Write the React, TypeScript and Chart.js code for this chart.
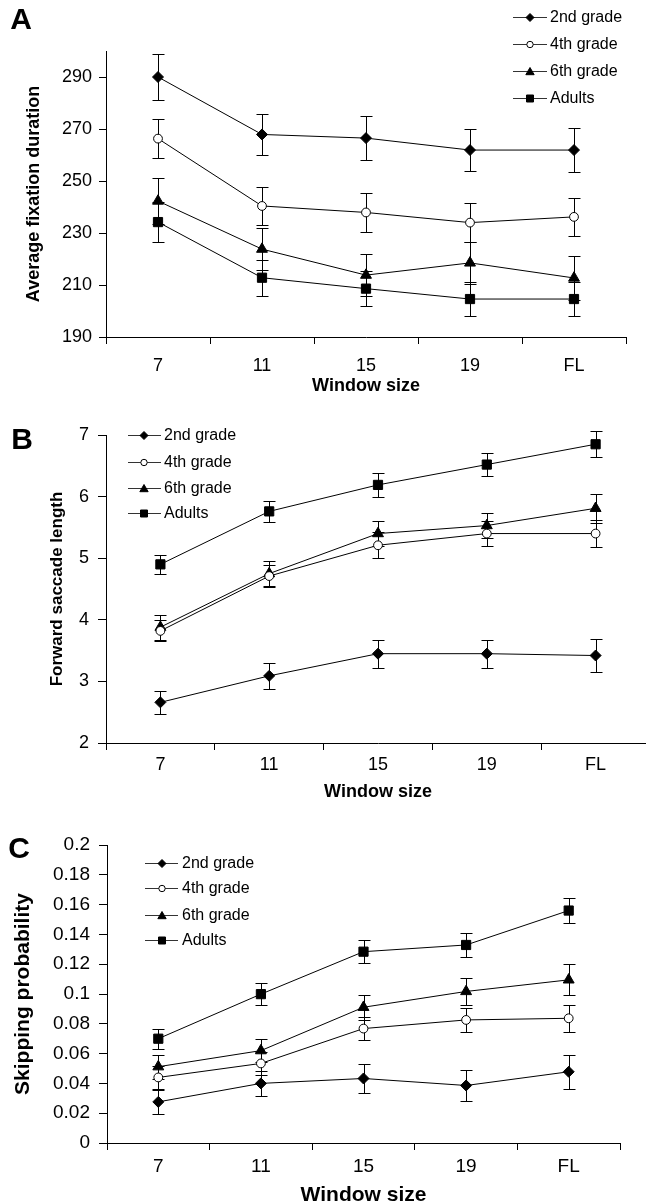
import React, { useEffect, useRef } from 'react';
import { Chart, registerables } from 'chart.js';

Chart.register(...registerables);

const FONT = "'Liberation Sans', Arial, Helvetica, sans-serif";

// ---------- shared ----------
const windowSizes = ['7', '11', '15', '19', 'FL'];
const groupNames = ['2nd grade', '4th grade', '6th grade', 'Adults'];
const markerStyles = ['rectRot', 'circle', 'triangle', 'rect'];
const markerRadii = [5.5, 4.4, 6.3, 6.5];
const markerFills = ['#000', '#fff', '#000', '#000'];

// ---------- Panel A: Average fixation duration ----------
const fixationTicks = [190, 210, 230, 250, 270, 290];
const fixation2nd = [290, 267.9, 266.5, 261.9, 261.9];
const fixation4th = [266.3, 240.4, 237.9, 234, 236.2];
const fixation6th = [242.3, 223.8, 213.8, 218.5, 212.7];
const fixationAdults = [234.2, 212.8, 208.6, 204.6, 204.6];
const fixationErr2nd = [8.7, 8, 8.4, 8, 8.5];
const fixationErr4th = [7.5, 7.4, 7.4, 7.4, 7.4];
const fixationErr6th = [9, 8, 8, 8, 8.5];
const fixationErrAdults = [7.6, 6.9, 6.7, 6.7, 6.7];

// ---------- Panel B: Forward saccade length ----------
const saccadeTicks = [2, 3, 4, 5, 6, 7];
const saccade2nd = [2.66, 3.09, 3.45, 3.45, 3.42];
const saccade4th = [3.82, 4.71, 5.21, 5.4, 5.4];
const saccade6th = [3.88, 4.75, 5.4, 5.53, 5.81];
const saccadeAdults = [4.9, 5.76, 6.19, 6.52, 6.85];
const saccadeErr2nd = [0.19, 0.21, 0.23, 0.23, 0.27];
const saccadeErr4th = [0.17, 0.18, 0.21, 0.2, 0.22];
const saccadeErr6th = [0.2, 0.2, 0.21, 0.21, 0.24];
const saccadeErrAdults = [0.16, 0.17, 0.19, 0.19, 0.21];

// ---------- Panel C: Skipping probability ----------
const skipTicks = [0, 0.02, 0.04, 0.06, 0.08, 0.1, 0.12, 0.14, 0.16, 0.18, 0.2];
const skip2nd = [0.0276, 0.04, 0.0433, 0.0386, 0.0478];
const skip4th = [0.044, 0.0534, 0.0768, 0.0826, 0.0837];
const skip6th = [0.0512, 0.062, 0.0911, 0.1017, 0.1095];
const skipAdults = [0.07, 0.0999, 0.1284, 0.1329, 0.156];
const skipErr2nd = [0.008, 0.0083, 0.0095, 0.0103, 0.0115];
const skipErr4th = [0.008, 0.008, 0.008, 0.008, 0.009];
const skipErr6th = [0.008, 0.0076, 0.0084, 0.009, 0.0103];
const skipErrAdults = [0.0067, 0.0074, 0.0079, 0.008, 0.0085];

type PanelCfg = {
  letter: string;
  letterX: number;
  letterY: number;
  top: number;
  width: number;
  height: number;
  areaLeft: number;
  areaRight: number;
  areaTop: number;
  areaBottom: number;
  yMin: number;
  yMax: number;
  yTicks: number[];
  yTitle: string;
  yTitleSize: number;
  yTitlePad: number;
  yTickSize: number;
  yTickPad: number;
  yTickLen: number;
  xTickSize: number;
  xTickPad: number;
  xTitleSize: number;
  legendX0: number;
  legendX1: number;
  legendMarkX: number;
  legendTextX: number;
  legendRows: number[];
  series: number[][];
  errors: number[][];
};

const panelA: PanelCfg = {
  letter: 'A', letterX: 21, letterY: 21,
  top: 0, width: 646, height: 401,
  areaLeft: 106, areaRight: 626, areaTop: 51, areaBottom: 337,
  yMin: 190, yMax: 300, yTicks: fixationTicks,
  yTitle: 'Average fixation duration', yTitleSize: 18, yTitlePad: 23,
  yTickSize: 18, yTickPad: 7, yTickLen: 7,
  xTickSize: 18, xTickPad: 11, xTitleSize: 18,
  legendX0: 513, legendX1: 547, legendMarkX: 530, legendTextX: 550,
  legendRows: [17, 44, 71, 98],
  series: [fixation2nd, fixation4th, fixation6th, fixationAdults],
  errors: [fixationErr2nd, fixationErr4th, fixationErr6th, fixationErrAdults],
};

const panelB: PanelCfg = {
  letter: 'B', letterX: 22, letterY: 36,
  top: 405, width: 680, height: 402,
  areaLeft: 106, areaRight: 650, areaTop: 30, areaBottom: 338,
  yMin: 2, yMax: 7, yTicks: saccadeTicks,
  yTitle: 'Forward saccade length', yTitleSize: 17, yTitlePad: 47,
  yTickSize: 18, yTickPad: 9, yTickLen: 8,
  xTickSize: 18, xTickPad: 4, xTitleSize: 18,
  legendX0: 128, legendX1: 161, legendMarkX: 144, legendTextX: 164,
  legendRows: [30, 57, 83, 108],
  series: [saccade2nd, saccade4th, saccade6th, saccadeAdults],
  errors: [saccadeErr2nd, saccadeErr4th, saccadeErr6th, saccadeErrAdults],
};

const panelC: PanelCfg = {
  letter: 'C', letterX: 19, letterY: 30,
  top: 820, width: 646, height: 392,
  areaLeft: 107, areaRight: 620, areaTop: 25, areaBottom: 323,
  yMin: 0, yMax: 0.2, yTicks: skipTicks,
  yTitle: 'Skipping probability', yTitleSize: 21, yTitlePad: 11,
  yTickSize: 19, yTickPad: 9, yTickLen: 8,
  xTickSize: 19, xTickPad: 5, xTitleSize: 21,
  legendX0: 145, legendX1: 178, legendMarkX: 162, legendTextX: 182,
  legendRows: [43, 68, 95, 120],
  series: [skip2nd, skip4th, skip6th, skipAdults],
  errors: [skipErr2nd, skipErr4th, skipErr6th, skipErrAdults],
};

function drawLegendMarker(ctx: CanvasRenderingContext2D, idx: number, x: number, y: number) {
  ctx.save();
  ctx.lineWidth = 1;
  ctx.strokeStyle = '#000';
  ctx.fillStyle = markerFills[idx];
  ctx.beginPath();
  if (idx === 0) {
    const r = 4;
    ctx.moveTo(x, y - r);
    ctx.lineTo(x + r, y);
    ctx.lineTo(x, y + r);
    ctx.lineTo(x - r, y);
    ctx.closePath();
  } else if (idx === 1) {
    ctx.arc(x, y, 3.2, 0, Math.PI * 2);
  } else if (idx === 2) {
    const r = 4.8;
    for (let k = 0; k < 3; k++) {
      const a = (k * 2 * Math.PI) / 3;
      const px = x + Math.sin(a) * r;
      const py = y - Math.cos(a) * r + 0.8;
      if (k === 0) ctx.moveTo(px, py);
      else ctx.lineTo(px, py);
    }
    ctx.closePath();
  } else {
    ctx.rect(x - 3.5, y - 3.5, 7, 7);
  }
  ctx.fill();
  ctx.stroke();
  ctx.restore();
}

function Panel({ cfg }: { cfg: PanelCfg }) {
  const ref = useRef<HTMLCanvasElement | null>(null);

  useEffect(() => {
    const canvas = ref.current;
    if (!canvas) return;
    const c = cfg;

    const decor = {
      id: 'decor' + c.letter,
      beforeDatasetsDraw(chart: any) {
        const ctx: CanvasRenderingContext2D = chart.ctx;
        const ys = chart.scales.y;
        ctx.save();
        ctx.strokeStyle = '#000';
        ctx.lineWidth = 1;
        chart.data.datasets.forEach((ds: any, i: number) => {
          const meta = chart.getDatasetMeta(i);
          meta.data.forEach((pt: any, j: number) => {
            const v = ds.data[j];
            const e = c.errors[i][j];
            const x = Math.round(pt.x) + 0.5;
            const yT = Math.round(ys.getPixelForValue(v + e)) + 0.5;
            const yB = Math.round(ys.getPixelForValue(v - e)) + 0.5;
            ctx.beginPath();
            ctx.moveTo(x, yT);
            ctx.lineTo(x, yB);
            ctx.moveTo(x - 6, yT);
            ctx.lineTo(x + 6, yT);
            ctx.moveTo(x - 6, yB);
            ctx.lineTo(x + 6, yB);
            ctx.stroke();
          });
        });
        ctx.restore();
      },
      afterDraw(chart: any) {
        const ctx: CanvasRenderingContext2D = chart.ctx;
        ctx.save();
        ctx.fillStyle = '#000';
        ctx.font = `bold 30px ${FONT}`;
        ctx.textAlign = 'center';
        ctx.textBaseline = 'middle';
        ctx.fillText(c.letter, c.letterX, c.letterY);
        ctx.font = `16px ${FONT}`;
        ctx.textAlign = 'left';
        groupNames.forEach((name, i) => {
          const y = c.legendRows[i];
          ctx.strokeStyle = '#333';
          ctx.lineWidth = 1;
          ctx.beginPath();
          ctx.moveTo(c.legendX0, Math.round(y) + 0.5);
          ctx.lineTo(c.legendX1, Math.round(y) + 0.5);
          ctx.stroke();
          drawLegendMarker(ctx, i, c.legendMarkX, Math.round(y) + 0.5);
          ctx.fillStyle = '#000';
          ctx.fillText(name, c.legendTextX, y + 1);
        });
        ctx.restore();
      },
    };

    const fmt = (v: number) => String(Number(v.toFixed(2)));

    const chart = new Chart(canvas, {
      type: 'line',
      data: {
        labels: windowSizes,
        datasets: c.series.map((vals, i) => ({
          label: groupNames[i],
          data: vals,
          borderColor: '#000',
          borderWidth: 1,
          backgroundColor: markerFills[i],
          pointStyle: markerStyles[i] as any,
          pointRadius: markerRadii[i],
          pointBackgroundColor: markerFills[i],
          pointBorderColor: '#000',
          pointBorderWidth: 1,
          tension: 0,
          fill: false,
          clip: false as any,
        })),
      },
      options: {
        animation: false,
        responsive: false,
        devicePixelRatio: 1,
        layout: {
          padding: { left: 0, top: c.areaTop, right: c.width - c.areaRight, bottom: 0 },
        },
        plugins: {
          legend: { display: false },
          tooltip: { enabled: false },
          title: { display: false },
        },
        scales: {
          x: {
            type: 'category',
            offset: true,
            grid: {
              offset: true,
              drawOnChartArea: false,
              drawTicks: true,
              tickLength: 7,
              color: '#000',
              lineWidth: 1,
            },
            border: { display: true, color: '#000', width: 1 },
            ticks: {
              color: '#000',
              font: { family: FONT, size: c.xTickSize },
              padding: c.xTickPad,
              maxRotation: 0,
              autoSkip: false,
            },
            title: {
              display: true,
              text: 'Window size',
              color: '#000',
              font: { family: FONT, size: c.xTitleSize, weight: 'bold' },
              padding: { top: 0, bottom: 4 },
            },
            afterFit: (s: any) => {
              s.height = c.height - c.areaBottom;
            },
          },
          y: {
            type: 'linear',
            min: c.yMin,
            max: c.yMax,
            afterBuildTicks: (s: any) => {
              s.ticks = c.yTicks.map((v) => ({ value: v }));
            },
            grid: {
              drawOnChartArea: false,
              drawTicks: true,
              tickLength: c.yTickLen,
              color: '#000',
              lineWidth: 1,
            },
            border: { display: true, color: '#000', width: 1 },
            ticks: {
              color: '#000',
              font: { family: FONT, size: c.yTickSize },
              padding: c.yTickPad,
              autoSkip: false,
              callback: (v: any) => fmt(Number(v)),
            },
            title: {
              display: true,
              text: c.yTitle,
              color: '#000',
              font: { family: FONT, size: c.yTitleSize, weight: 'bold' },
              padding: { top: c.yTitlePad, bottom: 0 },
            },
            afterFit: (s: any) => {
              s.width = c.areaLeft;
            },
          },
        },
      } as any,
      plugins: [decor],
    });

    return () => chart.destroy();
  }, [cfg]);

  return (
    <div
      style={{
        position: 'absolute',
        left: 0,
        top: cfg.top,
        width: cfg.width,
        height: cfg.height,
      }}
    >
      <canvas
        ref={ref}
        width={cfg.width}
        height={cfg.height}
        style={{ display: 'block', width: cfg.width, height: cfg.height }}
      />
    </div>
  );
}

export default function App() {
  return (
    <div
      style={{
        position: 'absolute',
        left: 0,
        top: 0,
        width: 646,
        height: 1203,
        overflow: 'hidden',
        background: '#fff',
      }}
    >
      <Panel cfg={panelA} />
      <Panel cfg={panelB} />
      <Panel cfg={panelC} />
    </div>
  );
}
